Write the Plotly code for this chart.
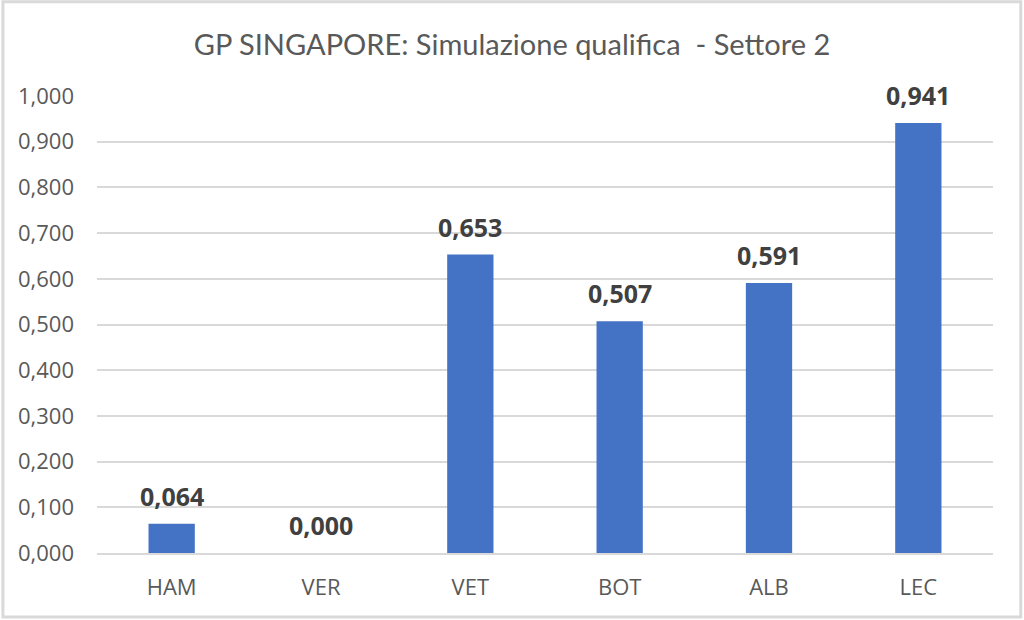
import plotly.graph_objects as go

drivers = ["HAM", "VER", "VET", "BOT", "ALB", "LEC"]
gaps = [0.064, 0.000, 0.653, 0.507, 0.591, 0.941]
y_ticks = [0.0, 0.1, 0.2, 0.3, 0.4, 0.5, 0.6, 0.7, 0.8, 0.9, 1.0]
title_text = "GP SINGAPORE: Simulazione qualifica  - Settore 2"

fig = go.Figure(go.Bar(
    x=drivers, y=gaps,
    marker=dict(color="#4472C4", line=dict(width=0)),
    width=0.31,
))

for d, v in zip(drivers, gaps):
    fig.add_annotation(x=d, y=v, xref="x", yref="y", text=f"{v:.3f}".replace(".", ","),
                       showarrow=False, yanchor="middle", yshift=28,
                       font=dict(family="Open Sans", size=25, color="#404040", weight="bold"))

fig.update_layout(
    width=1024, height=620,
    paper_bgcolor="white", plot_bgcolor="white",
    separators=",.",
    margin=dict(l=97, r=31, t=96, b=67),
    title=dict(text=title_text, x=0.5, xanchor="center", y=0.927, yanchor="middle",
               font=dict(family="Lato", size=29, color="#595959")),
    showlegend=False,
)
fig.update_yaxes(range=[0, 1.0], tickvals=y_ticks, tickformat=".3f",
                 showgrid=True, gridcolor="#D9D9D9", gridwidth=1.5,
                 zeroline=False, showline=False, ticks="", ticklen=0,
                 ticklabelstandoff=22,
                 tickfont=dict(family="Open Sans", size=22, color="#595959"))
fig.update_xaxes(showline=True, linecolor="#D9D9D9", linewidth=1.5, ticks="",
                 ticklabelstandoff=14,
                 tickfont=dict(family="Open Sans", size=22, color="#595959"))
fig.add_shape(type="rect", xref="paper", yref="paper", x0=-0.105, x1=1.031, y0=-0.140, y1=1.206,
              line=dict(color="#D9D9D9", width=3), fillcolor="rgba(0,0,0,0)", layer="below")

fig.write_html("out.html")
